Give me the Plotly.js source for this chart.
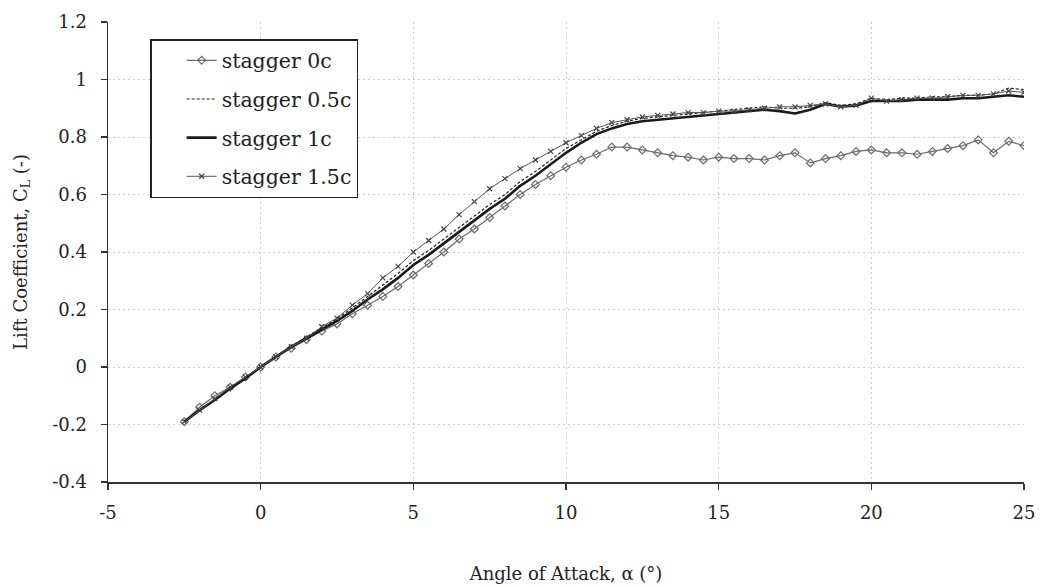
<!DOCTYPE html>
<html>
<head>
<meta charset="utf-8">
<script src="https://cdn.plot.ly/plotly-3.0.1.min.js"></script>
<style>html,body{margin:0;padding:0;background:#fff;}#chart{width:1041px;height:587px;}</style>
</head>
<body>
<div id="chart"></div>
<script>
// Angle of attack (degrees)
const alpha = [-2.5,-2,-1.5,-1,-0.5,0,0.5,1,1.5,2,2.5,3,3.5,4,4.5,5,5.5,6,6.5,7,7.5,8,8.5,9,9.5,10,10.5,11,11.5,12,12.5,13,13.5,14,14.5,15,15.5,16,16.5,17,17.5,18,18.5,19,19.5,20,20.5,21,21.5,22,22.5,23,23.5,24,24.5,25];

// Lift coefficient for each stagger
const cl_stagger0 = [-0.19,-0.14,-0.10,-0.07,-0.035,0.0,0.035,0.065,0.095,0.125,0.15,0.185,0.215,0.245,0.28,0.32,0.36,0.40,0.445,0.48,0.52,0.56,0.60,0.635,0.665,0.695,0.72,0.74,0.765,0.765,0.755,0.745,0.735,0.73,0.72,0.73,0.725,0.725,0.72,0.735,0.745,0.71,0.725,0.735,0.75,0.755,0.745,0.745,0.74,0.75,0.76,0.77,0.79,0.745,0.785,0.77];
const cl_stagger05 = [-0.19,-0.15,-0.11,-0.072,-0.037,0.0,0.037,0.072,0.105,0.138,0.168,0.205,0.245,0.285,0.325,0.37,0.405,0.445,0.485,0.525,0.565,0.60,0.645,0.68,0.72,0.76,0.79,0.82,0.84,0.855,0.865,0.87,0.875,0.88,0.885,0.89,0.895,0.9,0.905,0.9,0.9,0.905,0.92,0.91,0.915,0.935,0.93,0.935,0.935,0.94,0.94,0.945,0.945,0.95,0.97,0.965];
const cl_stagger1 = [-0.19,-0.15,-0.115,-0.075,-0.04,0.0,0.035,0.07,0.10,0.13,0.16,0.195,0.235,0.27,0.31,0.355,0.39,0.43,0.47,0.51,0.55,0.585,0.63,0.665,0.705,0.745,0.78,0.81,0.83,0.845,0.855,0.86,0.865,0.87,0.875,0.88,0.885,0.89,0.895,0.89,0.882,0.895,0.915,0.905,0.91,0.925,0.925,0.925,0.93,0.93,0.93,0.935,0.935,0.94,0.945,0.94];
const cl_stagger15 = [-0.19,-0.15,-0.11,-0.07,-0.035,0.0,0.035,0.07,0.10,0.14,0.17,0.215,0.255,0.31,0.35,0.40,0.44,0.48,0.53,0.575,0.62,0.655,0.69,0.72,0.75,0.78,0.805,0.83,0.85,0.86,0.87,0.875,0.88,0.885,0.885,0.89,0.89,0.895,0.90,0.905,0.905,0.91,0.915,0.905,0.91,0.935,0.925,0.93,0.935,0.935,0.94,0.945,0.945,0.95,0.96,0.955];

const seriesNames = ["stagger 0c","stagger 0.5c","stagger 1c","stagger 1.5c"];

const xTickVals = [-5,0,5,10,15,20,25];
const xTickText = ["-5","0","5","10","15","20","25"];
const yTickVals = [-0.4,-0.2,0,0.2,0.4,0.6,0.8,1,1.2];
const yTickText = ["-0.4","-0.2","0","0.2","0.4","0.6","0.8","1","1.2"];

const FONT = "DejaVu Serif, Liberation Serif, serif";

const traces = [
  {x: alpha, y: cl_stagger0, name: seriesNames[0], legendgroup: "g0", mode: "lines+markers",
   line: {color: "#6a6a6a", width: 1.2},
   marker: {symbol: "diamond-open", size: 6, color: "#6a6a6a", line: {width: 1.2, color: "#6a6a6a"}}},
  {x: alpha, y: cl_stagger05, name: seriesNames[1], legendgroup: "g1", mode: "lines",
   line: {color: "#222", width: 1.2, dash: "3px,2px"}},
  {x: alpha, y: cl_stagger1, name: seriesNames[2], legendgroup: "g2", mode: "lines",
   line: {color: "#1a1a1a", width: 2.6}},
  {x: alpha, y: cl_stagger15, name: seriesNames[3], legendgroup: "g3", mode: "lines+markers",
   line: {color: "#555", width: 1},
   marker: {symbol: "x-thin-open", size: 5, color: "#444", line: {width: 1.2, color: "#444"}}}
];

const gridStyle = {gridcolor: "#cdcdcd", griddash: "2px,3px", gridwidth: 1};

const layout = {
  width: 1041, height: 587,
  margin: {l: 108, r: 17, t: 22, b: 105},
  paper_bgcolor: "#fff", plot_bgcolor: "#fff",
  font: {family: FONT, size: 18, color: "#222"},
  showlegend: true,
  legend: {x: 0.046, y: 0.963, xanchor: "left", yanchor: "top",
    bgcolor: "#fff", bordercolor: "#222", borderwidth: 1.5,
    traceorder: "grouped", tracegroupgap: 9, indentation: 30,
    font: {family: FONT, size: 20.5, color: "#222"}},
  xaxis: Object.assign({
    range: [-5, 25], tickvals: xTickVals, ticktext: xTickText,
    showline: true, linecolor: "#333", linewidth: 1.5,
    ticks: "outside", ticklen: 6, tickcolor: "#333", tickwidth: 1.2,
    zeroline: false, ticklabelstandoff: 8,
    title: {text: "Angle of Attack, α (°)", font: {family: FONT, size: 18}, standoff: 45}
  }, gridStyle),
  yaxis: Object.assign({
    range: [-0.4, 1.2], tickvals: yTickVals, ticktext: yTickText,
    showline: true, linecolor: "#333", linewidth: 1.5,
    ticks: "outside", ticklen: 6, tickcolor: "#333", tickwidth: 1.2,
    zeroline: false, ticklabelstandoff: 10,
    title: {text: "Lift Coefficient, C<sub>L</sub> (-)", font: {family: FONT, size: 18}, standoff: 20}
  }, gridStyle)
};

Plotly.newPlot("chart", traces, layout, {displayModeBar: false, staticPlot: true});
</script>
</body>
</html>
